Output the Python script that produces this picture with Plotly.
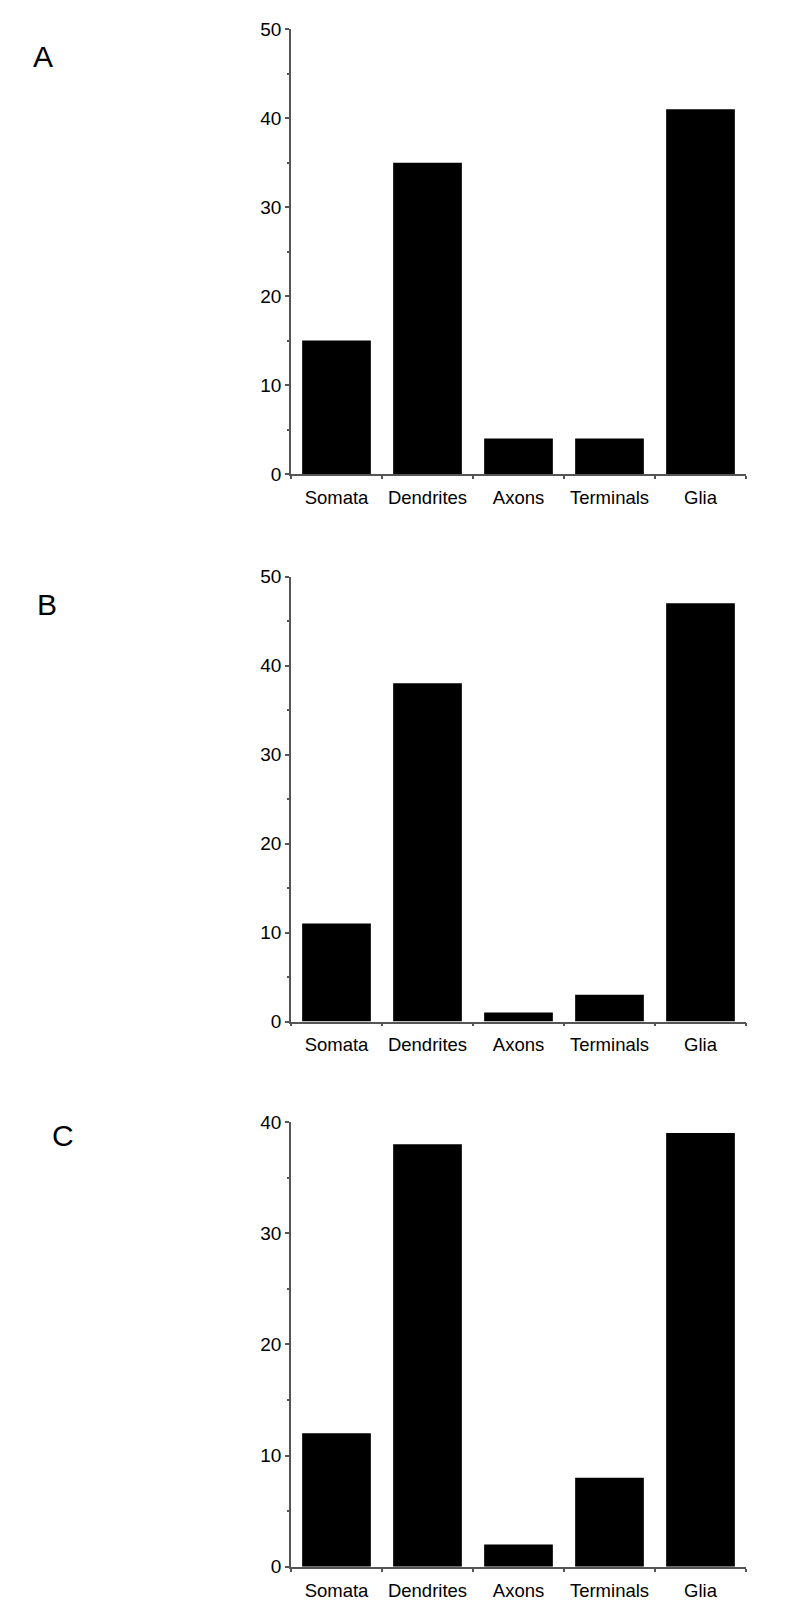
import plotly.graph_objects as go

cells = ['Somata', 'Dendrites', 'Axons', 'Terminals', 'Glia']
counts_a = [15, 35, 4, 4, 41]
counts_b = [11, 38, 1, 3, 47]
counts_c = [12, 38, 2, 8, 39]
panel_labels = ['A', 'B', 'C']
y_max = [50, 50, 40]

W, H = 800, 1613
font = 'Arial, Liberation Sans, sans-serif'
axis_col = '#555555'

# pixel boxes of the three plot areas (top, bottom)
boxes = [(29.3, 474.0), (576.5, 1021.5), (1122.0, 1566.8)]
x_dom = [291 / W, 746 / W]
label_pos = [(43, 57), (47, 604.5), (62.5, 1135.5)]

fig = go.Figure()
for i, vals in enumerate([counts_a, counts_b, counts_c]):
    n = '' if i == 0 else str(i + 1)
    fig.add_bar(x=cells, y=vals, marker_color='black', marker_line_width=0,
                xaxis='x' + n, yaxis='y' + n, showlegend=False)
    top, bot = boxes[i]
    fig.layout['xaxis' + n] = dict(
        domain=x_dom, anchor='y' + n, type='category', range=[-0.5, 4.5], automargin=False,
        showline=True, linecolor=axis_col, linewidth=1.5, showgrid=False, zeroline=False,
        ticks='outside', tickson='boundaries', ticklen=3, tickcolor=axis_col, tickwidth=1.5,
        ticklabelstandoff=6,
        tickfont=dict(family=font, size=18.5, color='black'))
    fig.layout['yaxis' + n] = dict(
        domain=[1 - bot / H, 1 - top / H], anchor='x' + n, range=[0, y_max[i]], automargin=False,
        dtick=10, showline=True, linecolor=axis_col, linewidth=1.5, showgrid=False, zeroline=False,
        ticks='outside', ticklen=4, tickcolor=axis_col, tickwidth=1.5,
        minor=dict(dtick=5, ticks='outside', ticklen=2, tickcolor=axis_col, showgrid=False),
        tickfont=dict(family=font, size=19, color='black'))
    lx, ly = label_pos[i]
    fig.add_annotation(text=panel_labels[i], x=lx / W, y=1 - ly / H, xref='paper', yref='paper',
                       xanchor='center', yanchor='middle', showarrow=False,
                       font=dict(family=font, size=30, color='black'))

fig.update_layout(width=W, height=H, autosize=False, bargap=0.245,
                  margin=dict(l=0, r=0, t=0, b=0),
                  plot_bgcolor='white', paper_bgcolor='white')
# drop the browser's default body margin so the figure sits at the page origin
fig.write_html("out.html", config={'displayModeBar': False},
               post_script="document.body.style.margin='0';")
